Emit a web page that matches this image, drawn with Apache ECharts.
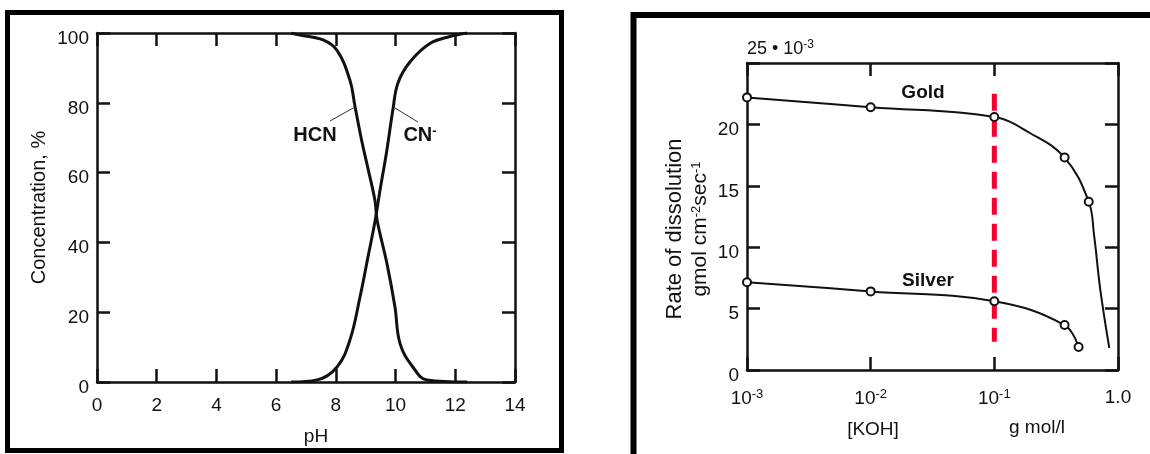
<!DOCTYPE html>
<html>
<head>
<meta charset="utf-8">
<title>HCN / CN- and dissolution rate</title>
<script src="https://cdn.jsdelivr.net/npm/echarts@6/dist/echarts.min.js"></script>
<style>
	html, body {
		margin: 0;
		padding: 0;
		background: #fff;
	}
	#chart {
		width: 1150px;
		height: 454px;
	}
</style>
</head>
<body>
<div id="chart"></div>
<script>
	// left panel: species vs pH
	const phHCN = [6.5, 6.8, 7.57, 8.04, 8.47, 8.64, 8.87, 9.08, 9.31, 9.38, 9.71, 9.98, 10.15, 10.58, 11.05, 12.4]
	const hcn = [100, 99.4, 98, 95, 86.5, 79, 69, 61, 52, 46.4, 34, 21.5, 11, 4.3, 0.6, 0]
	const phCN = [6.5, 7.37, 8.04, 8.47, 8.8, 9.08, 9.31, 9.48, 9.71, 9.91, 10.08, 10.48, 11.15, 11.82, 12.4]
	const cn = [0, 0.6, 4.3, 12, 24, 36, 46, 55, 66.5, 78, 85.7, 91.7, 97, 99, 100]

	// right panel: rate of dissolution vs [KOH]
	const goldKOH = [0.001, 0.01, 0.1, 0.194, 0.37, 0.58, 0.64, 0.72, 0.85]
	const goldRate = [22.2, 21.4, 20.6, 19.3, 17.3, 13.7, 11, 6.5, 1.8]
	const goldMarked = [true, true, true, false, true, true, false, false, false]
	const silverKOH = [0.001, 0.01, 0.1, 0.37, 0.48]
	const silverRate = [7.15, 6.4, 5.6, 3.66, 1.87]
	const redKOH = [0.1, 0.1]
	const redRate = [22.5, 2.3]

	const pHTicks = [0, 2, 4, 6, 8, 10, 12, 14]
	const concTicks = [0, 20, 40, 60, 80, 100]
	const rateTicks = [0, 5, 10, 15, 20, 25]

	const font = 'Liberation Sans, Arial, sans-serif'
	const black = '#111'

	function frameAxis(extra) {
		return Object.assign({
			axisLine: { show: true, onZero: false, lineStyle: { color: black, width: 2.5 } },
			axisTick: { show: true, inside: true, length: 13, lineStyle: { color: black, width: 2.5 } },
			axisLabel: { show: false },
			splitLine: { show: false },
			minorTick: { show: false }
		}, extra)
	}

	const labelStyle = {
		show: true,
		color: black,
		fontFamily: font,
		fontSize: 19
	}

	const chart = echarts.init(document.getElementById('chart'))

	let option = {
		animation: false,
		backgroundColor: '#fff',
		grid: [
			{ left: 97, top: 33, right: 635, bottom: 72 },
			{ left: 747, top: 63, right: 32, bottom: 84 }
		],
		xAxis: [
			frameAxis({
				gridIndex: 0, type: 'value', position: 'bottom',
				min: pHTicks[0], max: pHTicks[pHTicks.length - 1], interval: 2,
				axisLabel: Object.assign({}, labelStyle, { margin: 14 })
			}),
			frameAxis({
				gridIndex: 0, type: 'value', position: 'top',
				min: pHTicks[0], max: pHTicks[pHTicks.length - 1], interval: 2
			}),
			frameAxis({
				gridIndex: 1, type: 'log', logBase: 10, position: 'bottom',
				min: 0.001, max: 1,
				axisLabel: Object.assign({}, labelStyle, {
					margin: 18,
					formatter: function (v) {
						const e = Math.round(Math.log10(v))
						return e === 0 ? '1.0' : '10{sup|' + e + '}'
					},
					rich: {
						sup: { fontFamily: font, fontSize: 13, color: black, verticalAlign: 'top', padding: [0, 0, 8, 0] }
					}
				})
			}),
			frameAxis({
				gridIndex: 1, type: 'log', logBase: 10, position: 'top',
				min: 0.001, max: 1
			})
		],
		yAxis: [
			frameAxis({
				gridIndex: 0, type: 'value', position: 'left',
				min: concTicks[0], max: concTicks[concTicks.length - 1], interval: 20,
				axisLabel: Object.assign({}, labelStyle, { margin: 8, verticalAlign: 'top', padding: [-4, 0, 0, 0] }),
				name: 'Concentration, %',
				nameLocation: 'middle',
				nameGap: 48,
				nameTextStyle: { color: black, fontFamily: font, fontSize: 20 }
			}),
			frameAxis({
				gridIndex: 0, type: 'value', position: 'right',
				min: concTicks[0], max: concTicks[concTicks.length - 1], interval: 20
			}),
			frameAxis({
				gridIndex: 1, type: 'value', position: 'left',
				min: rateTicks[0], max: rateTicks[rateTicks.length - 1], interval: 5,
				axisLabel: Object.assign({}, labelStyle, {
					margin: 8, verticalAlign: 'top', padding: [-4, 0, 0, 0],
					formatter: function (v) { return v === 25 ? '' : String(v) }
				}),
				name: '25 • 10{sup|-3}',
				nameLocation: 'end',
				nameGap: 4,
				nameTextStyle: {
					color: black, fontFamily: font, fontSize: 18, align: 'left', verticalAlign: 'bottom',
					rich: { sup: { fontFamily: font, fontSize: 12, color: black, verticalAlign: 'top', padding: [0, 0, 8, 0] } }
				}
			}),
			frameAxis({
				gridIndex: 1, type: 'value', position: 'right',
				min: rateTicks[0], max: rateTicks[rateTicks.length - 1], interval: 5
			})
		],
		series: [
			{
				name: 'HCN',
				type: 'line',
				xAxisIndex: 0, yAxisIndex: 0,
				data: phHCN.map((x, i) => [x, hcn[i]]),
				symbol: 'none',
				smooth: 0.4,
				lineStyle: { color: black, width: 3 }
			},
			{
				name: 'CN-',
				type: 'line',
				xAxisIndex: 0, yAxisIndex: 0,
				data: phCN.map((x, i) => [x, cn[i]]),
				symbol: 'none',
				smooth: 0.4,
				lineStyle: { color: black, width: 3 }
			},
			{
				name: 'Gold',
				type: 'line',
				xAxisIndex: 2, yAxisIndex: 2,
				data: goldKOH.map((x, i) => ({
					value: [x, goldRate[i]],
					symbol: goldMarked[i] ? 'emptyCircle' : 'none'
				})),
				symbolSize: 8,
				smooth: 0.4,
				itemStyle: { color: black, borderWidth: 1.5 },
				lineStyle: { color: black, width: 2 }
			},
			{
				name: 'Silver',
				type: 'line',
				xAxisIndex: 2, yAxisIndex: 2,
				data: silverKOH.map((x, i) => [x, silverRate[i]]),
				symbol: 'emptyCircle',
				symbolSize: 8,
				smooth: 0.4,
				itemStyle: { color: black, borderWidth: 1.5 },
				lineStyle: { color: black, width: 2 }
			},
			{
				name: 'marker',
				type: 'line',
				xAxisIndex: 2, yAxisIndex: 2,
				data: redKOH.map((x, i) => [x, redRate[i]]),
				symbol: 'none',
				z: 1,
				lineStyle: { color: '#f5002e', width: 5, type: [17, 9] }
			}
		],
		graphic: [
			// panel frames
			{ type: 'rect', shape: { x: 7.5, y: 12.5, width: 554, height: 438 }, style: { fill: null, stroke: '#000', lineWidth: 5 } },
			{ type: 'rect', shape: { x: 633.5, y: 15, width: 540, height: 460 }, style: { fill: null, stroke: '#000', lineWidth: 6 } },
			// axis titles
			{ type: 'text', x: 316, y: 437, style: { text: 'pH', font: '19px ' + font, fill: black, textAlign: 'center', textVerticalAlign: 'middle' } },
			{ type: 'text', x: 873, y: 430, style: { text: '[KOH]', font: '19px ' + font, fill: black, textAlign: 'center', textVerticalAlign: 'middle' } },
			{ type: 'text', x: 1037, y: 428, style: { text: 'g mol/l', font: '19px ' + font, fill: black, textAlign: 'center', textVerticalAlign: 'middle' } },
			{
				type: 'text', x: 675, y: 229, rotation: Math.PI / 2,
				style: { text: 'Rate of dissolution', font: '22px ' + font, fill: black, textAlign: 'center', textVerticalAlign: 'middle' }
			},
			{
				type: 'text', x: 700, y: 229, rotation: Math.PI / 2,
				style: {
					text: '{t|gmol cm}{s|-2}{t|sec}{s|-1}',
					textAlign: 'center', textVerticalAlign: 'middle',
					rich: {
						t: { font: '21px ' + font, fill: black },
						s: { font: '13px ' + font, fill: black, verticalAlign: 'top', padding: [0, 0, 8, 0] }
					}
				}
			},
			// curve labels
			{ type: 'text', x: 315, y: 135, style: { text: 'HCN', font: 'bold 20px ' + font, fill: black, textAlign: 'center', textVerticalAlign: 'middle' } },
			{
				type: 'text', x: 420, y: 135,
				style: {
					text: '{t|CN}{s|-}', textAlign: 'center', textVerticalAlign: 'middle',
					rich: {
						t: { font: 'bold 20px ' + font, fill: black },
						s: { font: 'bold 13px ' + font, fill: black, verticalAlign: 'top', padding: [0, 0, 8, 0] }
					}
				}
			},
			{ type: 'line', shape: { x1: 330, y1: 121, x2: 355, y2: 107 }, style: { stroke: '#333', lineWidth: 1 } },
			{ type: 'line', shape: { x1: 395, y1: 108, x2: 418, y2: 122 }, style: { stroke: '#333', lineWidth: 1 } },
			{ type: 'text', x: 923, y: 93, style: { text: 'Gold', font: 'bold 19px ' + font, fill: black, textAlign: 'center', textVerticalAlign: 'middle' } },
			{ type: 'text', x: 928, y: 281, style: { text: 'Silver', font: 'bold 19px ' + font, fill: black, textAlign: 'center', textVerticalAlign: 'middle' } }
		]
	}

	chart.setOption(option)
</script>
</body>
</html>
